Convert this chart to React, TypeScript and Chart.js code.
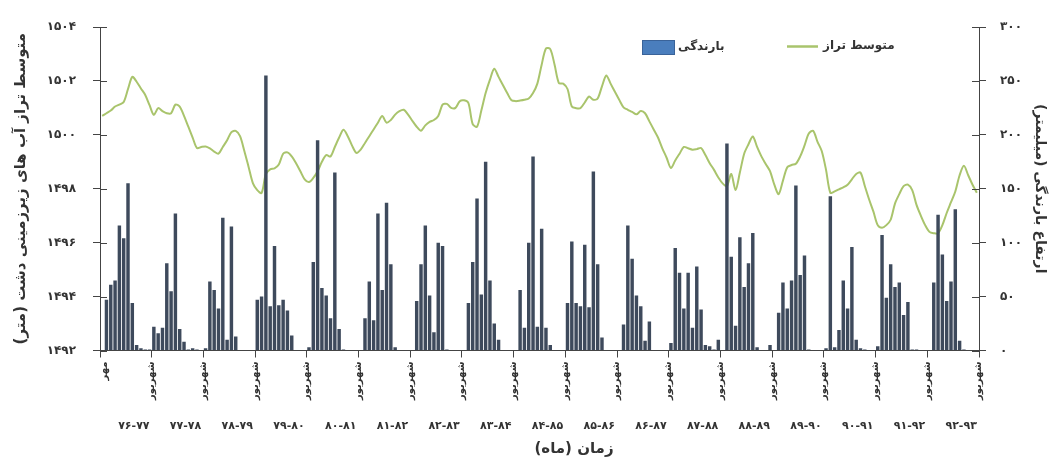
import React, { useEffect, useRef } from 'react';
import { Chart, registerables } from 'chart.js';

Chart.register(...registerables);

const FONT = '"DejaVu Sans", "Noto Sans", sans-serif';

// ---- labels ----
const monthNames = ['مهر', 'آبان', 'آذر', 'دی', 'بهمن', 'اسفند', 'فروردین', 'اردیبهشت', 'خرداد', 'تیر', 'مرداد', 'شهریور'];
const waterYears = ['۷۶-۷۷', '۷۷-۷۸', '۷۸-۷۹', '۷۹-۸۰', '۸۰-۸۱', '۸۱-۸۲', '۸۲-۸۳', '۸۳-۸۴', '۸۴-۸۵', '۸۵-۸۶', '۸۶-۸۷', '۸۷-۸۸', '۸۸-۸۹', '۸۹-۹۰', '۹۰-۹۱', '۹۱-۹۲', '۹۲-۹۳'];
const leftTickLabels = ['۱۴۹۲', '۱۴۹۴', '۱۴۹۶', '۱۴۹۸', '۱۵۰۰', '۱۵۰۲', '۱۵۰۴'];
const rightTickLabels = ['۰', '۵۰', '۱۰۰', '۱۵۰', '۲۰۰', '۲۵۰', '۳۰۰'];
const rainLabel = 'بارندگی';
const levelLabel = 'متوسط تراز';
const leftTitle = 'متوسط تراز آب های زیرزمینی دشت (متر)';
const rightTitle = 'ارتفاع بارندگی (میلیمتر)';
const xTitle = 'زمان (ماه)';

// ---- monthly rainfall (mm), one array per water year (Mehr..Shahrivar) ----
const rain7677 = [0, 47, 61, 65, 116, 104, 155, 44, 5, 2, 1, 1];
const rain7778 = [22, 16, 21, 81, 55, 127, 20, 8, 1, 2, 1, 0];
const rain7879 = [2, 64, 56, 39, 123, 10, 115, 13, 0, 0, 0, 0];
const rain7980 = [47, 50, 255, 41, 97, 42, 47, 37, 14, 0, 0, 0];
const rain8081 = [3, 82, 195, 58, 51, 30, 165, 20, 1, 0, 0, 0];
const rain8182 = [0, 30, 64, 28, 127, 56, 137, 80, 3, 0, 0, 0];
const rain8283 = [0, 46, 80, 116, 51, 17, 100, 97, 1, 0, 0, 0];
const rain8384 = [0, 44, 82, 141, 52, 175, 65, 25, 10, 0, 0, 0];
const rain8485 = [0, 56, 21, 100, 180, 22, 113, 21, 5, 0, 0, 0];
const rain8586 = [44, 101, 44, 41, 98, 40, 166, 80, 12, 0, 0, 0];
const rain8687 = [0, 24, 116, 85, 51, 41, 9, 27, 0, 0, 0, 0];
const rain8788 = [7, 95, 72, 39, 72, 21, 78, 38, 5, 4, 1, 10];
const rain8889 = [0, 192, 87, 23, 105, 59, 81, 109, 3, 0, 0, 5];
const rain8990 = [0, 35, 63, 39, 65, 153, 70, 88, 1, 0, 0, 0];
const rain9091 = [2, 143, 3, 19, 65, 39, 96, 10, 2, 1, 0, 0];
const rain9192 = [4, 107, 49, 80, 59, 63, 33, 45, 1, 1, 0, 0];
const rain9293 = [0, 63, 126, 89, 46, 64, 131, 9, 1, 0, 0, 0];

// ---- monthly mean groundwater level (m) ----
const level7677 = [1500.70, 1500.80, 1500.90, 1501.05, 1501.12, 1501.22, 1501.70, 1502.15, 1501.97, 1501.72, 1501.48, 1501.10];
const level7778 = [1500.74, 1500.99, 1500.88, 1500.80, 1500.80, 1501.12, 1501.05, 1500.70, 1500.30, 1499.90, 1499.51, 1499.55];
const level7879 = [1499.57, 1499.50, 1499.38, 1499.30, 1499.55, 1499.80, 1500.10, 1500.15, 1499.95, 1499.40, 1498.80, 1498.20];
const level7980 = [1497.95, 1497.84, 1498.55, 1498.72, 1498.76, 1498.90, 1499.30, 1499.35, 1499.20, 1498.95, 1498.65, 1498.35];
const level8081 = [1498.25, 1498.40, 1498.65, 1499.00, 1499.25, 1499.20, 1499.55, 1499.90, 1500.19, 1499.95, 1499.60, 1499.33];
const level8182 = [1499.45, 1499.70, 1499.95, 1500.20, 1500.45, 1500.70, 1500.45, 1500.55, 1500.75, 1500.88, 1500.93, 1500.75];
const level8283 = [1500.52, 1500.30, 1500.15, 1500.35, 1500.48, 1500.55, 1500.70, 1501.12, 1501.15, 1501.00, 1501.00, 1501.25];
const level8384 = [1501.28, 1501.18, 1500.40, 1500.30, 1500.90, 1501.55, 1502.05, 1502.45, 1502.15, 1501.85, 1501.55, 1501.28];
const level8485 = [1501.25, 1501.27, 1501.30, 1501.35, 1501.55, 1501.90, 1502.60, 1503.20, 1503.18, 1502.60, 1501.92, 1501.90];
const level8586 = [1501.70, 1501.05, 1500.99, 1500.99, 1501.20, 1501.42, 1501.30, 1501.35, 1501.80, 1502.20, 1501.90, 1501.60];
const level8687 = [1501.30, 1501.02, 1500.93, 1500.85, 1500.76, 1500.88, 1500.80, 1500.50, 1500.20, 1499.90, 1499.50, 1499.15];
const level8788 = [1498.77, 1499.05, 1499.30, 1499.55, 1499.50, 1499.45, 1499.47, 1499.51, 1499.25, 1498.95, 1498.70, 1498.42];
const level8889 = [1498.20, 1498.10, 1498.55, 1497.95, 1498.60, 1499.30, 1499.65, 1499.94, 1499.55, 1499.20, 1498.92, 1498.65];
const level8990 = [1498.15, 1497.80, 1498.30, 1498.80, 1498.88, 1498.93, 1499.20, 1499.60, 1500.05, 1500.15, 1499.75, 1499.40];
const level9091 = [1498.70, 1497.85, 1497.90, 1497.98, 1498.05, 1498.15, 1498.35, 1498.55, 1498.60, 1498.10, 1497.60, 1497.15];
const level9192 = [1496.65, 1496.55, 1496.65, 1496.85, 1497.45, 1497.80, 1498.10, 1498.15, 1497.95, 1497.40, 1497.00, 1496.65];
const level9293 = [1496.40, 1496.35, 1496.35, 1496.65, 1497.10, 1497.50, 1497.90, 1498.50, 1498.85, 1498.50, 1498.15, 1497.85];

const rainByYear = [rain7677, rain7778, rain7879, rain7980, rain8081, rain8182, rain8283, rain8384, rain8485, rain8586, rain8687, rain8788, rain8889, rain8990, rain9091, rain9192, rain9293];
const levelByYear = [level7677, level7778, level7879, level7980, level8081, level8182, level8283, level8384, level8485, level8586, level8687, level8788, level8889, level8990, level9091, level9192, level9293];

const BAR_COLOR = '#3e4a5c';
const LINE_COLOR = '#a9c46c';
const AXIS_COLOR = '#444';
const TEXT_COLOR = '#333';

export default function App() {
  const ref = useRef<HTMLCanvasElement>(null);

  useEffect(() => {
    const labels = waterYears.flatMap(() => monthNames);
    const rainfall = rainByYear.flat();
    const level = levelByYear.flat();

    const extrasPlugin = {
      id: 'extras',
      afterDraw(chart: any) {
        const ctx = chart.ctx;
        const area = chart.chartArea;
        ctx.save();
        // inner halves of the y-axis tick marks
        ctx.strokeStyle = AXIS_COLOR;
        ctx.lineWidth = 1;
        const yl = chart.scales.yL;
        yl.ticks.forEach((_t: any, i: number) => {
          const y = Math.round(yl.getPixelForTick(i)) + 0.5;
          ctx.beginPath();
          ctx.moveTo(area.left, y);
          ctx.lineTo(area.left + 7, y);
          ctx.stroke();
        });
        const yr = chart.scales.yR;
        yr.ticks.forEach((_t: any, i: number) => {
          const y = Math.round(yr.getPixelForTick(i)) + 0.5;
          ctx.beginPath();
          ctx.moveTo(area.right - 7, y);
          ctx.lineTo(area.right, y);
          ctx.stroke();
        });
        // legend
        ctx.font = `bold 12px ${FONT}`;
        ctx.textBaseline = 'middle';
        ctx.textAlign = 'left';
        ctx.fillStyle = '#4a7ebd';
        ctx.fillRect(642, 40, 33, 15);
        ctx.strokeStyle = '#3a6399';
        ctx.strokeRect(642.5, 40.5, 32, 14);
        ctx.fillStyle = TEXT_COLOR;
        ctx.fillText(chart.data.datasets[0].label, 678, 47);
        ctx.strokeStyle = LINE_COLOR;
        ctx.lineWidth = 2.5;
        ctx.beginPath();
        ctx.moveTo(787, 46.5);
        ctx.lineTo(818, 46.5);
        ctx.stroke();
        ctx.fillText(chart.data.datasets[1].label, 823, 46);
        // x-axis title
        ctx.font = `bold 15px ${FONT}`;
        ctx.textAlign = 'center';
        ctx.fillText(xTitle, 574, 449);
        ctx.restore();
      },
    };

    const chart = new Chart(ref.current as HTMLCanvasElement, {
      type: 'bar',
      data: {
        labels,
        datasets: [
          {
            type: 'bar',
            label: rainLabel,
            data: rainfall,
            xAxisID: 'x',
            yAxisID: 'yR',
            backgroundColor: BAR_COLOR,
            borderWidth: 0,
            barPercentage: 0.8,
            categoryPercentage: 1,
            order: 1,
          },
          {
            type: 'line',
            label: levelLabel,
            data: level,
            xAxisID: 'x',
            yAxisID: 'yL',
            borderColor: LINE_COLOR,
            borderWidth: 2,
            pointRadius: 0,
            tension: 0.3,
            fill: false,
            order: 2,
          },
        ],
      } as any,
      options: {
        animation: false,
        responsive: true,
        maintainAspectRatio: false,
        layout: { padding: { top: 27, left: 0, right: 0, bottom: 0 } },
        plugins: { legend: { display: false }, tooltip: { enabled: false } },
        scales: {
          x: {
            type: 'category',
            position: 'bottom',
            offset: true,
            weight: 0,
            grid: {
              display: true,
              offset: true,
              drawOnChartArea: false,
              drawTicks: true,
              tickLength: 7,
              lineWidth: 1,
              color: (c: any) => (c.index === undefined || c.index % 12 === 0 ? AXIS_COLOR : 'rgba(0,0,0,0)'),
            },
            border: { display: true, color: AXIS_COLOR, width: 1 },
            ticks: {
              autoSkip: false,
              minRotation: 90,
              maxRotation: 90,
              padding: 4,
              labelOffset: 2,
              color: TEXT_COLOR,
              font: { family: FONT, size: 10, weight: 'bold' },
              callback: (_v: any, i: number) => (i === 0 || i % 12 === 11 ? labels[i] : ''),
            },
            afterFit: (s: any) => { s.height = 66; },
          },
          x2: {
            type: 'category',
            labels: waterYears,
            position: 'bottom',
            offset: true,
            weight: 1,
            grid: { display: false, drawTicks: false },
            border: { display: false },
            ticks: {
              autoSkip: false,
              minRotation: 0,
              maxRotation: 0,
              padding: 3,
              labelOffset: 8,
              color: TEXT_COLOR,
              font: { family: FONT, size: 11, weight: 'bold' },
            },
            afterFit: (s: any) => { s.height = 49.5; },
          },
          yL: {
            type: 'linear',
            position: 'left',
            min: 1492,
            max: 1504,
            grid: { drawOnChartArea: false, tickLength: 7, color: AXIS_COLOR },
            border: { display: true, color: AXIS_COLOR, width: 1 },
            ticks: {
              stepSize: 2,
              padding: 17,
              color: TEXT_COLOR,
              font: { family: FONT, size: 12, weight: 'bold' },
              callback: (_v: any, i: number) => leftTickLabels[i],
            },
            title: {
              display: true,
              text: leftTitle,
              color: TEXT_COLOR,
              font: { family: FONT, size: 15, weight: 'bold' },
              padding: { top: 12, bottom: 0 },
            },
            afterFit: (s: any) => { s.width = 100; },
          },
          yR: {
            type: 'linear',
            position: 'right',
            min: 0,
            max: 300,
            grid: { drawOnChartArea: false, tickLength: 7, color: AXIS_COLOR },
            border: { display: true, color: AXIS_COLOR, width: 1 },
            ticks: {
              stepSize: 50,
              padding: 14,
              color: TEXT_COLOR,
              font: { family: FONT, size: 12, weight: 'bold' },
              callback: (_v: any, i: number) => rightTickLabels[i],
            },
            title: {
              display: true,
              text: rightTitle,
              color: TEXT_COLOR,
              font: { family: FONT, size: 14, weight: 'bold' },
              padding: { top: 5, bottom: 0 },
            },
            afterFit: (s: any) => { s.width = 74; },
          },
        },
      } as any,
      plugins: [extrasPlugin],
    });

    return () => chart.destroy();
  }, []);

  return (
    <div style={{ position: 'fixed', left: 0, top: 0, width: 1053, height: 466, background: '#fff' }}>
      <canvas ref={ref} />
    </div>
  );
}
